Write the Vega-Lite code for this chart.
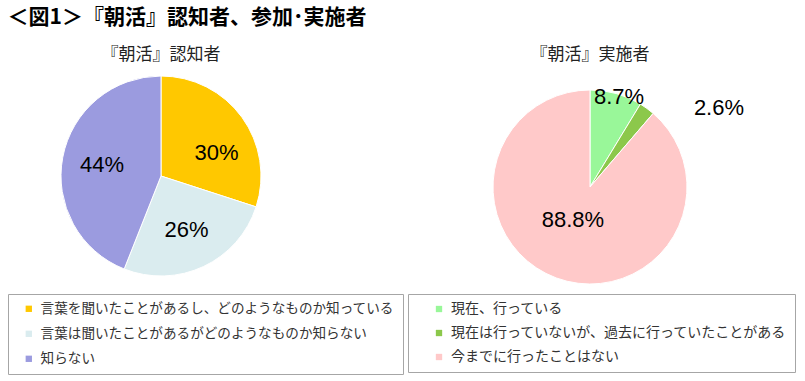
{
  "$schema": "https://vega.github.io/schema/vega-lite/v6.json",
  "background": "white",
  "padding": {"left": 7, "top": 7, "right": 0, "bottom": 0},
  "autosize": {"type": "pad"},
  "title": {"text": "＜図1＞『朝活』認知者、参加･実施者", "anchor": "start", "frame": "bounds", "fontSize": 21, "font": "Noto Sans CJK JP", "fontWeight": "bold", "color": "#000000", "offset": 18},
  "config": {"view": {"stroke": null}},
  "bounds": "flush",
  "spacing": 94,
  "resolve": {"scale": {"color": "independent", "theta": "independent"}, "legend": {"color": "independent"}},
  "hconcat": [
    {
      "width": 306,
      "height": 212,
      "title": {"text": "『朝活』認知者", "fontSize": 17, "font": "Noto Sans CJK JP", "fontWeight": "normal", "anchor": "middle", "offset": 6, "color": "#222222"},
      "data": {"values": [
        {"category": "言葉を聞いたことがあるし、どのようなものか知っている", "value": 30, "label": "30%", "order": 1},
        {"category": "言葉は聞いたことがあるがどのようなものか知らない", "value": 26, "label": "26%", "order": 2},
        {"category": "知らない", "value": 44, "label": "44%", "order": 3}
      ]},
      "encoding": {
        "theta": {"field": "value", "type": "quantitative", "stack": true},
        "order": {"field": "order", "type": "quantitative"}
      },
      "layer": [
        {
          "mark": {"type": "arc", "radius": 100, "stroke": "white", "strokeWidth": 1},
          "encoding": {
            "color": {
              "field": "category", "type": "nominal",
              "scale": {"domain": ["言葉を聞いたことがあるし、どのようなものか知っている", "言葉は聞いたことがあるがどのようなものか知らない", "知らない"], "range": ["#FFC800", "#DAECEF", "#9B9BDF"]},
              "legend": {"orient": "none", "legendX": 0, "legendY": 224, "title": null, "direction": "vertical", "strokeColor": "#a6a6a6", "padding": 8, "symbolType": "square", "symbolSize": 40, "symbolStrokeWidth": 0, "labelFont": "Noto Sans CJK JP", "labelFontSize": 13.6, "labelColor": "#333333", "rowPadding": 10, "symbolOffset": 6, "labelOffset": 5, "labelLimit": 600}
            }
          }
        },
        {
          "mark": {"type": "text", "radius": 60, "fontSize": 22, "font": "Liberation Sans", "color": "#000000", "dx": {"expr": "datum.label == '30%' ? 7 : 0"}, "dy": {"expr": "datum.label == '30%' ? 12 : 0"}},
          "encoding": {"text": {"field": "label"}}
        }
      ]
    },
    {
      "width": 364,
      "height": 234,
      "title": {"text": "『朝活』実施者", "fontSize": 17, "font": "Noto Sans CJK JP", "fontWeight": "normal", "anchor": "middle", "offset": 6, "color": "#222222"},
      "data": {"values": [
        {"category": "現在、行っている", "value": 8.7, "label": "8.7%", "order": 1},
        {"category": "現在は行っていないが、過去に行っていたことがある", "value": 2.6, "label": "2.6%", "order": 2},
        {"category": "今までに行ったことはない", "value": 88.8, "label": "88.8%", "order": 3}
      ]},
      "encoding": {
        "theta": {"field": "value", "type": "quantitative", "stack": true},
        "order": {"field": "order", "type": "quantitative"}
      },
      "layer": [
        {
          "mark": {"type": "arc", "radius": 97, "stroke": "white", "strokeWidth": 1},
          "encoding": {
            "color": {
              "field": "category", "type": "nominal",
              "scale": {"domain": ["現在、行っている", "現在は行っていないが、過去に行っていたことがある", "今までに行ったことはない"], "range": ["#99F799", "#8CC84B", "#FFC9C9"]},
              "legend": {"orient": "none", "legendX": 0, "legendY": 224, "title": null, "direction": "vertical", "strokeColor": "#a6a6a6", "padding": 8, "symbolType": "square", "symbolSize": 40, "symbolStrokeWidth": 0, "labelFont": "Noto Sans CJK JP", "labelFontSize": 14, "labelColor": "#333333", "rowPadding": 10, "symbolOffset": 16, "labelOffset": 5, "labelLimit": 600}
            }
          }
        },
        {
          "mark": {"type": "text", "fontSize": 22, "font": "Liberation Sans", "color": "#000000",
            "radius": {"expr": "datum.label == '8.7%' ? 93 : datum.label == '2.6%' ? 97 : 35"},
            "dx": {"expr": "datum.label == '8.7%' ? 4 : datum.label == '2.6%' ? 72 : -5"}},
          "encoding": {"text": {"field": "label"}}
        }
      ]
    }
  ]
}
